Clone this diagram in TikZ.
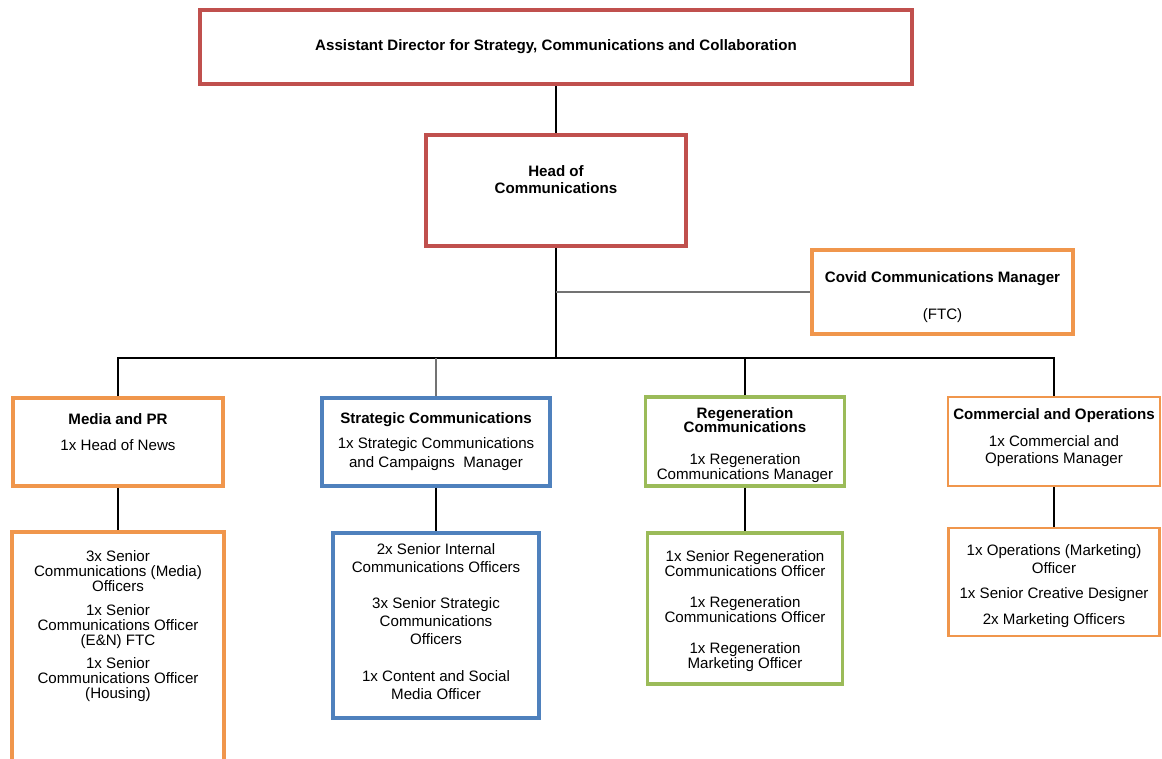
\documentclass[tikz,border=0pt]{standalone}
\usepackage{fontspec}
\setmainfont{Liberation Sans}
\usetikzlibrary{positioning}
\definecolor{redline}{RGB}{192,80,77}
\definecolor{orangeline}{RGB}{240,150,76}
\definecolor{blueline}{RGB}{79,129,189}
\definecolor{greenline}{RGB}{155,187,89}
\begin{document}
\begin{tikzpicture}[x=0.02cm, y=-0.02cm,
  box/.style={draw, fill=white, inner sep=0pt},
  redbox/.style={box, draw=redline, line width=2.5pt},
  orangebox/.style={box, draw=orangeline, line width=2.2pt},
  bluebox/.style={box, draw=blueline, line width=1.9pt},
  greenbox/.style={box, draw=greenline, line width=1.8pt},
  txt/.style={align=center, inner sep=0pt, anchor=north,
              font=\fontsize{8.6}{9.1}\selectfont},
  tight/.style={font=\fontsize{8.6}{8.5}\selectfont},
  loose/.style={font=\fontsize{8.6}{10.2}\selectfont},
  conn/.style={line width=0.85pt},
  subconn/.style={line width=0.6pt, black!55}
]
\useasboundingbox (0,0) rectangle (1162,758);

% top of the chart
\node[redbox, minimum width=14.24cm, minimum height=1.48cm] (ad) at (556,47) {};
\node[txt, below=0.63cm of ad.north] (ad-t)
     {\textbf{Assistant Director for Strategy, Communications and Collaboration}};
\node[redbox, line width=2.2pt, minimum width=5.2cm, minimum height=2.22cm] (hoc) at (556,190.5) {};
\node[txt, below=0.65cm of hoc.north] (hoc-t) {\textbf{Head of}\\[0.6pt]\textbf{Communications}};
\node[orangebox, minimum width=5.22cm, minimum height=1.68cm] (covid) at (942.5,292) {};
\node[txt, below=0.47cm of covid.north] (covid-t)
     {\textbf{Covid Communications Manager}\\[12pt](FTC)};

% teams
\node[orangebox, minimum width=4.2cm, minimum height=1.76cm] (media) at (118,442) {};
\node[txt, below=0.35cm of media.north] (media-t) {\textbf{Media and PR}\\[5.7pt]1x Head of News};
\node[bluebox, minimum width=4.56cm, minimum height=1.76cm] (strat) at (436,442) {};
\node[txt, below=0.32cm of strat.north] (strat-t)
     {\textbf{Strategic Communications}\\[5pt]1x Strategic Communications\\[1.7pt]and Campaigns~ Manager};
\node[greenbox, minimum width=3.98cm, minimum height=1.78cm] (regen) at (745,441.5) {};
\node[txt, below=0.23cm of regen.north] (regen-t)
     {\textbf{Regeneration}\\[-1pt]\textbf{Communications}\\[9pt]1x Regeneration\\[-0.5pt]Communications Manager};
\node[orangebox, line width=1.5pt, minimum width=4.24cm, minimum height=1.78cm] (comm) at (1054,441.5) {};
\node[txt, below=0.25cm of comm.north] (comm-t)
     {\textbf{Commercial and Operations}\\[6pt]1x Commercial and\\[0.6pt]Operations Manager};

% officers
\node[orangebox, minimum width=4.24cm, minimum height=4.66cm] (mediab) at (118,648.5) {};
\node[txt, tight, below=0.41cm of mediab.north] (mediab-t)
     {3x Senior\\Communications (Media)\\Officers\\[5pt]1x Senior\\Communications Officer\\(E\&N) FTC\\[4.5pt]1x Senior\\Communications Officer\\(Housing)};
\node[bluebox, line width=2.2pt, minimum width=4.12cm, minimum height=3.7cm] (stratb) at (436,625.5) {};
\node[txt, loose, below=0.25cm of stratb.north] (stratb-t)
     {2x Senior Internal\\Communications Officers\\[10.2pt]3x Senior Strategic\\Communications\\Officers\\[10.8pt]1x Content and Social\\Media Officer};
\node[greenbox, minimum width=3.9cm, minimum height=3.02cm] (regenb) at (745,608.5) {};
\node[txt, below=0.37cm of regenb.north] (regenb-t)
     {1x Senior Regeneration\\[-0.5pt]Communications Officer\\[8.5pt]1x Regeneration\\[-0.5pt]Communications Officer\\[8.5pt]1x Regeneration\\[-0.5pt]Marketing Officer};
\node[orangebox, line width=1.5pt, minimum width=4.22cm, minimum height=2.16cm] (commb) at (1054,582) {};
\node[txt, loose, below=0.35cm of commb.north] (commb-t)
     {1x Operations (Marketing)\\Officer\\[4pt]1x Senior Creative Designer\\[4.5pt]2x Marketing Officers};

% lines
\coordinate (bus) at (556,358);
\draw[conn] (ad) -- (hoc);
\draw[conn] (hoc) -- (bus);
\draw[subconn] (hoc.south |- covid.west) -- (covid.west);
\draw[conn] (media.north) |- (bus) -| (comm.north);
\draw[subconn] (strat) -- (strat |- bus);
\draw[conn] (regen) -- (regen |- bus);
\draw[conn] (media) -- (mediab);
\draw[conn] (strat) -- (stratb);
\draw[conn] (regen) -- (regenb);
\draw[conn] (comm) -- (commb);
\end{tikzpicture}
\end{document}
